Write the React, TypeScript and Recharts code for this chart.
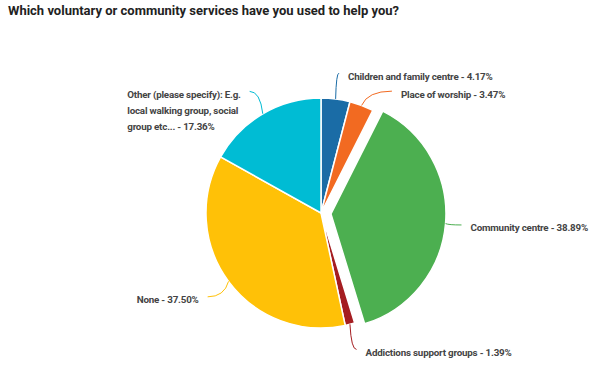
import { PieChart, Pie, Cell } from 'recharts';

const services = [
  'Children and family centre',
  'Place of worship',
  'Community centre',
  'Addictions support groups',
  'None',
  'Other (please specify): E.g. local walking group, social group etc...',
];
const shares = [4.17, 3.47, 38.89, 1.39, 37.5, 17.36];
const colours = ['#1a6ca6', '#f26a21', '#4caf50', '#a51d21', '#ffc107', '#00bcd4'];
const explodeIndex = 2;

const data = services.map((name, i) => ({ name, value: shares[i] }));

const CX = 321;
const CY = 213;
const R = 115;
const EXPLODE = 10;
const LINE_R = 141;
const GAP = 18;
const LINE_H = 16;
const CHAR_W = 4.05;
const FONT = 9.8;
const RAD = Math.PI / 180;

// mid angles, clockwise from 12 o'clock, same split the pie uses
const total = shares.reduce((a, b) => a + b, 0);
const midAngles = shares.map((v, i) => {
  const before = shares.slice(0, i).reduce((a, b) => a + b, 0);
  return ((before + v / 2) / total) * 360;
});
const explodeDx = EXPLODE * Math.sin(midAngles[explodeIndex] * RAD);
const explodeDy = -EXPLODE * Math.cos(midAngles[explodeIndex] * RAD);

const wrap = (text: string) => {
  if (text.length <= 36) return [text];
  const lines: string[] = [];
  let cur = '';
  text.split(' ').forEach((w) => {
    const next = cur ? cur + ' ' + w : w;
    if (next.length > 28 && cur) {
      lines.push(cur);
      cur = w;
    } else cur = next;
  });
  if (cur) lines.push(cur);
  return lines;
};

const labelText = (i: number) => wrap(`${services[i]} - ${shares[i].toFixed(2)}%`);

const placeLabels = (cx: number, cy: number, r: number) => {
  const spots = midAngles.map((a, i) => {
    const s = Math.sin(a * RAD);
    const c = Math.cos(a * RAD);
    const off = i === explodeIndex ? EXPLODE : 0;
    return {
      ex: cx + (r + off) * s,
      ey: cy - (r + off) * c,
      lx: cx + LINE_R * s,
      ly: cy - LINE_R * c,
      side: s >= 0 ? 1 : -1,
    };
  });
  [1, -1].forEach((side) => {
    const idx = spots
      .map((_, i) => i)
      .filter((i) => spots[i].side === side)
      .sort((a, b) => spots[a].ly - spots[b].ly);
    for (let k = 1; k < idx.length; k++) {
      const prev = spots[idx[k - 1]];
      const cur = spots[idx[k]];
      const gap = Math.max(GAP, labelText(idx[k - 1]).length * LINE_H + 2);
      if (cur.ly < prev.ly + gap) {
        cur.ly = prev.ly + gap;
        const dy = cur.ly - cy;
        cur.lx = cx + side * Math.sqrt(Math.max(0, LINE_R * LINE_R - dy * dy));
      }
    }
  });
  return spots;
};

const renderLabel = (props: any) => {
  const { cx, cy, outerRadius, index } = props;
  const p = placeLabels(cx, cy, outerRadius)[index];
  const qx = p.ex + (p.lx - p.ex) * 0.2;
  const lines = labelText(index);
  let tx = p.side > 0 ? p.lx + 9 : p.lx - 9;
  let anchor = p.side > 0 ? 'start' : 'end';
  if (lines.length > 1 && p.side < 0) {
    tx -= Math.max(...lines.map((l) => l.length)) * CHAR_W;
    anchor = 'start';
  }
  return (
    <g key={`lbl-${index}`}>
      <path
        d={`M${p.ex},${p.ey} Q${qx},${p.ly} ${p.lx},${p.ly}`}
        stroke={colours[index]}
        fill="none"
        strokeWidth={1}
      />
      <text
        x={tx}
        y={p.ly + 3}
        textAnchor={anchor}
        fill="#444444"
        fontSize={FONT}
        fontWeight={700}
        letterSpacing={-0.2}
        fontFamily="Roboto, sans-serif"
      >
        {lines.map((l, k) => (
          <tspan key={k} x={tx} dy={k === 0 ? '0.35em' : LINE_H}>
            {l}
          </tspan>
        ))}
      </text>
    </g>
  );
};

export default function App() {
  return (
    <div style={{ position: 'absolute', left: 0, top: 0, width: 602, height: 374, background: '#fff' }}>
      <div
        style={{
          position: 'absolute',
          left: 8,
          top: 3,
          fontFamily: 'Roboto, sans-serif',
          fontWeight: 700,
          fontSize: 13,
          color: '#222',
          whiteSpace: 'nowrap',
        }}
      >
        Which voluntary or community services have you used to help you?
      </div>
      <PieChart width={602} height={374} margin={{ top: 0, right: 0, bottom: 0, left: 0 }}>
        <Pie
          data={data}
          dataKey="value"
          nameKey="name"
          cx={CX}
          cy={CY}
          outerRadius={R}
          startAngle={90}
          endAngle={-270}
          stroke="#fff"
          strokeWidth={1.5}
          label={renderLabel}
          labelLine={false}
          isAnimationActive={false}
        >
          {data.map((d, i) => (
            <Cell
              key={d.name}
              fill={i === explodeIndex ? 'none' : colours[i]}
              stroke={i === explodeIndex ? 'none' : '#fff'}
            />
          ))}
        </Pie>
        <Pie
          data={data}
          dataKey="value"
          nameKey="name"
          cx={CX + explodeDx}
          cy={CY + explodeDy}
          outerRadius={R}
          startAngle={90}
          endAngle={-270}
          isAnimationActive={false}
        >
          {data.map((d, i) => (
            <Cell
              key={d.name}
              fill={i === explodeIndex ? colours[i] : 'none'}
              stroke={i === explodeIndex ? '#fff' : 'none'}
              strokeWidth={1.5}
            />
          ))}
        </Pie>
      </PieChart>
    </div>
  );
}
